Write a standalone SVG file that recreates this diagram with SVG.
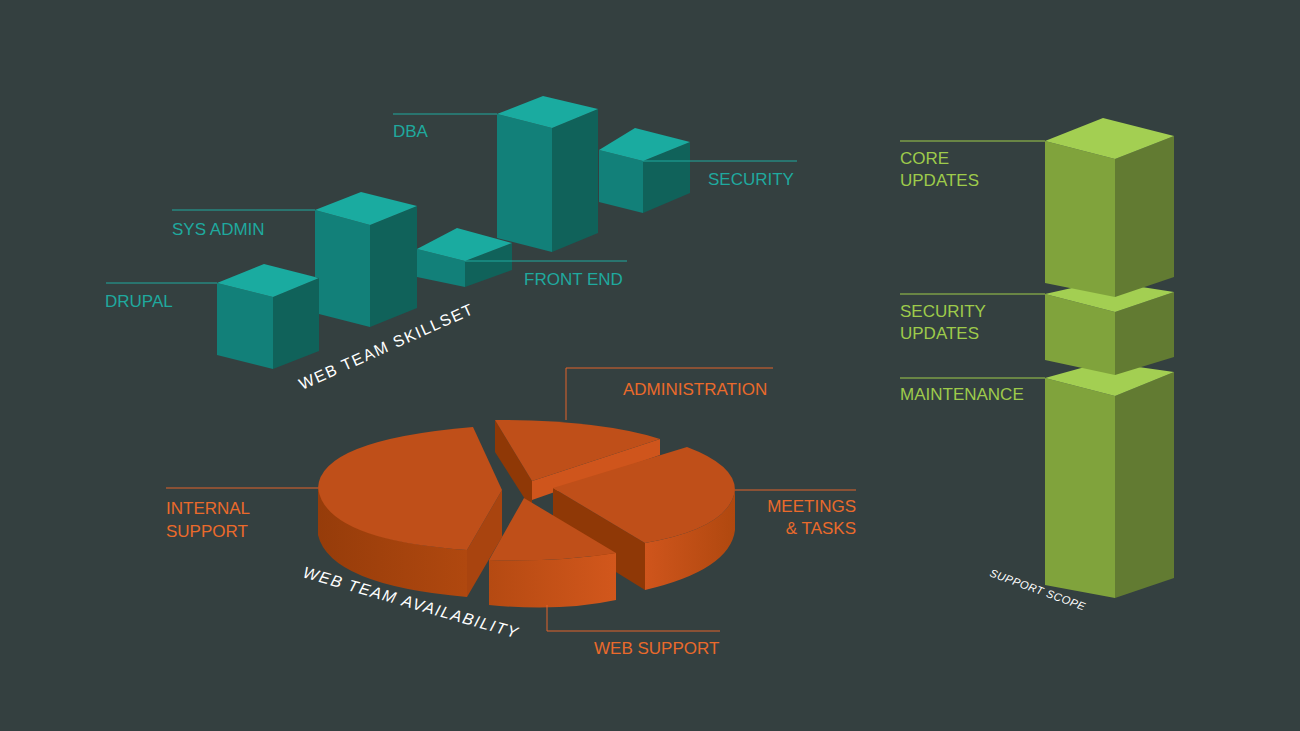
<svg xmlns="http://www.w3.org/2000/svg" width="1300" height="731" viewBox="0 0 1300 731">
<defs>
<style>
text{font-family:"Liberation Sans",Arial,sans-serif;font-size:17px}
.tt{fill:#1fa99e}.to{fill:#ea6a2b}.tg{fill:#9ecb4b}.tw{fill:#ffffff;font-size:16px;letter-spacing:1.5px}
.lt{stroke:#1fa99e;stroke-width:1;fill:none}.lo{stroke:#e0622a;stroke-width:1;fill:none}.lg{stroke:#9ecb4b;stroke-width:1;fill:none}
.ct{fill:#1aaba0}.cl{fill:#128079}.cr{fill:#10625a}
.gt{fill:#a3cf52}.gl{fill:#80a33c}.gr{fill:#627b32}
.ot{fill:#bf4f19}.od{fill:#8f3806}.ol{fill:#cf551c}.os{fill:#a9440f}
</style>
<linearGradient id="side" x1="0" x2="1" y1="0" y2="0"><stop offset="0" stop-color="#963c0a"/><stop offset="1" stop-color="#b0480f"/></linearGradient>
<linearGradient id="side2" x1="0" x2="1" y1="0" y2="0"><stop offset="0" stop-color="#b54a12"/><stop offset="1" stop-color="#d2571c"/></linearGradient>
<linearGradient id="side3" x1="0" x2="1" y1="0" y2="0"><stop offset="0" stop-color="#cf551c"/><stop offset="1" stop-color="#b0480f"/></linearGradient>
</defs>
<rect width="1300" height="731" fill="#344040"/>
<g id="drupal"><polygon class="cl" points="217,283 273,297 273,369 217,355"/><polygon class="cr" points="273,297 319,278 319,351 273,369"/><polygon class="ct" points="217,283 264,264 319,278 273,297"/></g>
<g id="sysadmin"><polygon class="cl" points="315,210 370,225 370,327 319,314 319,278 315,277"/><polygon class="cr" points="370,225 417,206 417,308 370,327"/><polygon class="ct" points="315,210 361,192 417,206 370,225"/></g>
<g id="frontend"><polygon class="cl" points="417,249 465,261 465,287 417,277"/><polygon class="cr" points="465,261 512,243 512,270 465,287"/><polygon class="ct" points="417,249 457,228 512,243 465,261"/></g>
<g id="dba"><polygon class="cl" points="497,114 552,128 552,252 497,238"/><polygon class="cr" points="552,128 598,109 598,233 552,252"/><polygon class="ct" points="497,114 543,96 598,109 552,128"/></g>
<g id="security"><polygon class="cl" points="599,150 643,161 643,213 599,202"/><polygon class="cr" points="643,161 690,142 690,193 643,213"/><polygon class="ct" points="599,150 635,128 690,142 643,161"/></g>
<g id="labels-skill">
<text class="tt" x="393" y="137">DBA</text>
<text class="tt" x="172" y="235">SYS ADMIN</text>
<text class="tt" x="105" y="307">DRUPAL</text>
<text class="tt" x="524" y="285">FRONT END</text>
<text class="tt" x="708" y="185">SECURITY</text>
<text class="tw" transform="translate(302,390) rotate(-24)">WEB TEAM SKILLSET</text>
</g>
<g id="maintenance"><polygon class="gl" points="1045,378 1115,396 1115,598 1045,585"/><polygon class="gr" points="1115,396 1174,372 1174,578 1115,598"/><polygon class="gt" points="1045,378 1103,362 1174,372 1115,396"/></g>
<g id="secupdates"><polygon class="gl" points="1045,294 1115,312 1115,375 1045,360"/><polygon class="gr" points="1115,312 1174,292 1174,357 1115,375"/><polygon class="gt" points="1045,294 1103,281 1174,292 1115,312"/></g>
<g id="coreupdates"><polygon class="gl" points="1045,141 1115,159 1115,297 1045,283"/><polygon class="gr" points="1115,159 1174,136 1174,277 1115,297"/><polygon class="gt" points="1045,141 1103,118 1174,136 1115,159"/></g>
<g id="labels-scope">
<text class="tg" x="900" y="164">CORE</text><text class="tg" x="900" y="186">UPDATES</text>
<text class="tg" x="900" y="317">SECURITY</text><text class="tg" x="900" y="339">UPDATES</text>
<text class="tg" x="900" y="400">MAINTENANCE</text>
<text class="tw" style="font-size:11px;font-style:italic;letter-spacing:0.5px" transform="translate(989,576) rotate(20)">SUPPORT SCOPE</text>
</g>
<g id="internal">
<path fill="url(#side)" d="M318 488V535Q330 585 467 597V550Q330 540 318 488Z"/>
<polygon class="os" points="467,550 502,490 502,537 467,597"/>
<path class="ot" d="M318 488Q320 440 473 427L502 490L467 550Q325 540 318 488Z"/>
</g>
<g id="administration">
<polygon class="od" points="495,420 532,481 532,510 495,452"/>
<polygon class="ol" points="532,481 660,439 660,455 532,500"/>
<path class="ot" d="M495 420Q600 420 660 439L532 481Z"/>
</g>
<g id="meetings">
<polygon class="od" points="553,488 645,543 645,590 553,533"/>
<path fill="url(#side3)" d="M645 543Q730 528 735 490V530Q730 570 645 590Z"/>
<path class="ot" d="M553 488L687 447Q735 465 735 490Q730 528 645 543Z"/>
</g>
<g id="websupport">
<path fill="url(#side2)" d="M489 560V605Q560 612 616 600V553Q560 562 489 560Z"/>
<path class="ot" d="M524 498L616 553Q560 562 489 560Z"/>
</g>
<g id="labels-pie">
<text class="to" x="623" y="395">ADMINISTRATION</text>
<text class="to" x="166" y="514">INTERNAL</text><text class="to" x="166" y="537">SUPPORT</text>
<text class="to" x="856" y="512" text-anchor="end">MEETINGS</text><text class="to" x="856" y="534" text-anchor="end">&amp; TASKS</text>
<text class="to" x="594" y="654">WEB SUPPORT</text>
<text class="tw" style="font-style:italic" transform="translate(302,577) rotate(16)">WEB TEAM AVAILABILITY</text>
</g>
<g id="connectors">
<path class="lt" d="M393 114H497M172 210H315M106 283H217M465 261H627M643 161H797"/>
<path class="lg" d="M900 141H1045M900 294H1045M900 378H1045"/>
<path class="lo" d="M566 420V368H773M166 488H318M735 490H856M547 605V631H720"/>
</g>
</svg>
